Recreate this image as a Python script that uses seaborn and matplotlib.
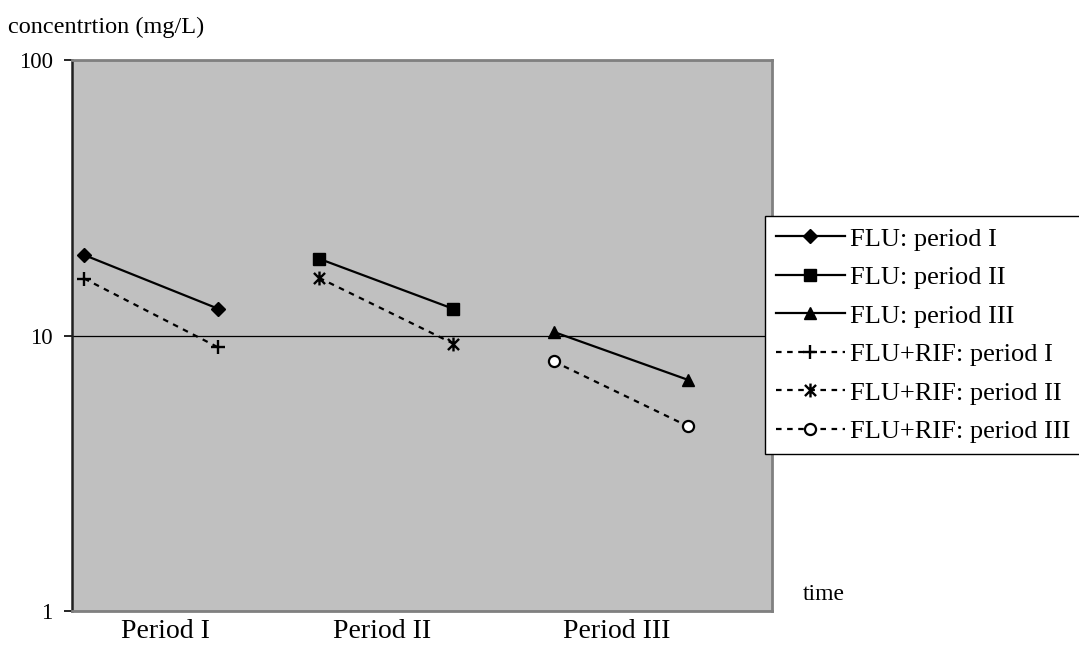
import matplotlib
matplotlib.use("Agg")
import matplotlib.pyplot as plt
from matplotlib.path import Path
from matplotlib.ticker import NullLocator
import seaborn as sns
import pandas as pd

# data (log scale, mg/L)
periods = ["Period I", "Period II", "Period III"]
sample_time = [[0, 4], [7, 11], [14, 18]]
flu = [[19.6, 12.5], [19.0, 12.5], [10.3, 6.9]]
flu_rif = [[16.1, 9.05], [16.2, 9.35], [8.05, 4.68]]
flu_labels = ["FLU: period I", "FLU: period II", "FLU: period III"]
rif_labels = ["FLU+RIF: period I", "FLU+RIF: period II", "FLU+RIF: period III"]

rows = []
for i in range(3):
    for t, v in zip(sample_time[i], flu[i]):
        rows.append({"time": t, "conc": v, "series": flu_labels[i]})
for i in range(3):
    for t, v in zip(sample_time[i], flu_rif[i]):
        rows.append({"time": t, "conc": v, "series": rif_labels[i]})
df = pd.DataFrame(rows)

# excel style asterisk: vertical bar + X
star = Path([(0, -1), (0, 1), (-0.8, -0.8), (0.8, 0.8), (-0.8, 0.8), (0.8, -0.8)],
            [Path.MOVETO, Path.LINETO, Path.MOVETO, Path.LINETO, Path.MOVETO, Path.LINETO])

dash = (0, (2.5, 2.5))
styles = {
    "FLU: period I": dict(marker="D", ms=7.5, mfc="black", ls="-"),
    "FLU: period II": dict(marker="s", ms=8.5, mfc="black", ls="-"),
    "FLU: period III": dict(marker="^", ms=9, mfc="black", ls="-"),
    "FLU+RIF: period I": dict(marker="+", ms=10, mfc="black", ls=dash, mew=1.7),
    "FLU+RIF: period II": dict(marker=star, ms=10, mfc="black", ls=dash, mew=1.7),
    "FLU+RIF: period III": dict(marker="o", ms=8, mfc="white", ls=dash, mew=1.6),
}

W, H = 1079, 648
fig = plt.figure(figsize=(W / 100, H / 100), dpi=100)
ax = fig.add_axes([72 / W, 1 - 611 / H, 700 / W, 551 / H])
ax.set_facecolor("#C0C0C0")

for name in flu_labels + rif_labels:
    st = styles[name]
    sub = df[df["series"] == name]
    sns.lineplot(data=sub, x="time", y="conc", ax=ax, color="black", lw=1.6,
                 marker=st["marker"], markersize=st["ms"], markerfacecolor=st["mfc"],
                 markeredgecolor="black", markeredgewidth=st.get("mew", 1.0),
                 linestyle=st["ls"], label=name, legend=False)

ax.set_yscale("log")
ax.set_ylim(1, 100)
ax.set_xlim(-0.36, 20.5)
ax.set_yticks([1, 10, 100])
ax.set_yticklabels(["1", "10", "100"])
ax.yaxis.set_minor_locator(NullLocator())
ax.set_xticks([2.41, 8.88, 15.88])
ax.set_xticklabels(periods)
ax.set_xlabel("")
ax.set_ylabel("")

ax.yaxis.grid(True, color="black", lw=0.9)
ax.xaxis.grid(False)
ax.set_axisbelow(True)

for side in ["top", "right", "bottom"]:
    ax.spines[side].set_color("#808080")
    ax.spines[side].set_linewidth(2)
ax.spines["left"].set_color("#202020")
ax.spines["left"].set_linewidth(1.8)

serif = "Liberation Serif"
ax.tick_params(axis="y", length=6, width=1.2, color="black", pad=8)
ax.tick_params(axis="x", length=0, pad=6)
for lab in ax.get_yticklabels():
    lab.set_fontfamily(serif)
    lab.set_fontsize(16.5)
for lab in ax.get_xticklabels():
    lab.set_fontfamily(serif)
    lab.set_fontsize(20)

fig.text(8 / W, 1 - 27 / H, "concentrtion (mg/L)", family=serif, fontsize=17.5,
         ha="left", va="center")
fig.text(803 / W, 1 - 595 / H, "time", family=serif, fontsize=17,
         ha="left", va="center")

handles = ax.get_lines()[:6]
leg = fig.legend(handles, flu_labels + rif_labels, loc="upper left",
                 bbox_to_anchor=(765 / W, 1 - 216 / H), bbox_transform=fig.transFigure,
                 borderaxespad=0, fancybox=False, framealpha=1, edgecolor="black",
                 prop={"family": serif, "size": 19}, handlelength=2.6,
                 handletextpad=0.2, labelspacing=0.57, borderpad=0.42, numpoints=1)
leg.get_frame().set_linewidth(1.0)

fig.savefig("out.png", dpi=100)
